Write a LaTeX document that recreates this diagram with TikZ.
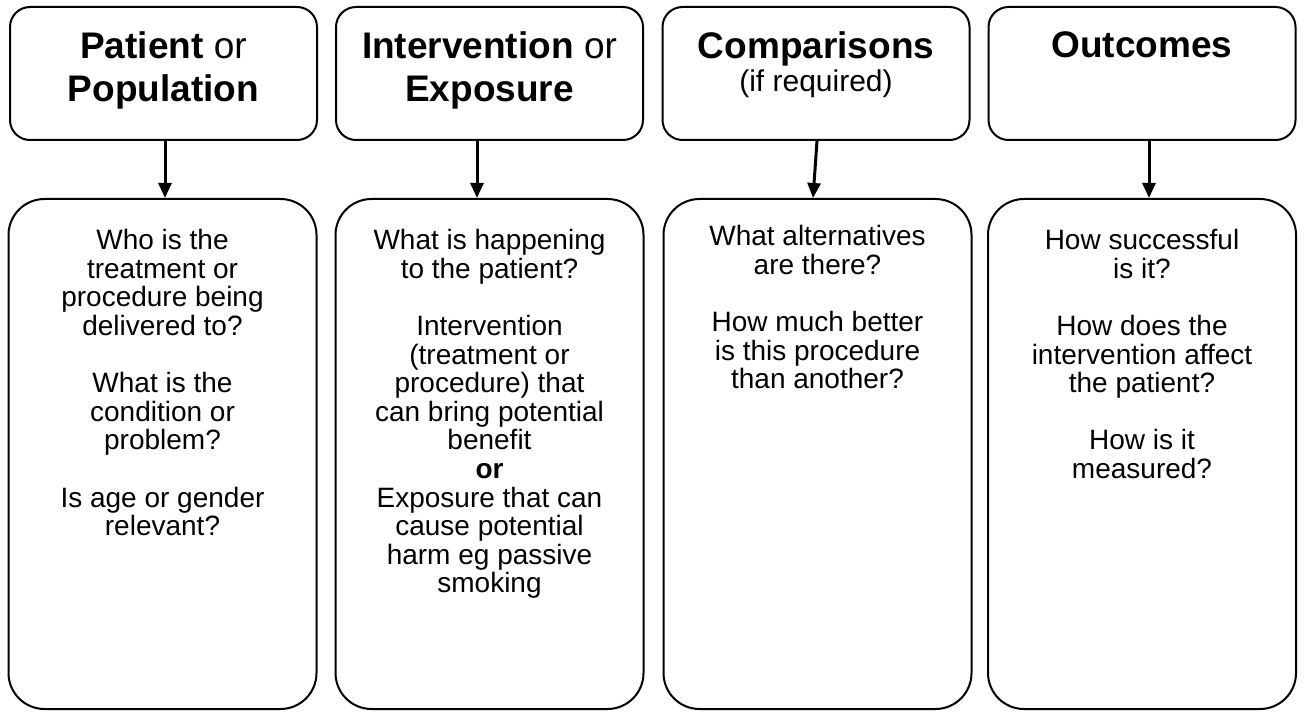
\documentclass[tikz,border=0pt]{standalone}
\usepackage{fontspec}
\setmainfont{Liberation Sans}
\usetikzlibrary{arrows.meta,positioning}
\begin{document}
\begin{tikzpicture}
[
 x=0.5pt, y=-0.5pt,
 HEADBOX/.style={rectangle, draw=black, line width=1pt, rounded corners=10pt, minimum width=153.5pt, minimum height=66.5pt, inner sep=0pt},
 BODYBOX/.style={rectangle, draw=black, line width=1pt, rounded corners=18pt, minimum width=154pt, minimum height=255pt, inner sep=0pt},
 HEADTXT/.style={anchor=north, align=center, inner sep=0pt, font=\fontsize{18.5}{21.5}\selectfont},
 BODYTXT/.style={anchor=north, align=center, inner sep=0pt, font=\fontsize{14}{14.3}\selectfont},
 ARROW/.style={line width=1.5pt, -{Triangle[width=6.5pt,length=7.5pt]}},
 ]
%
\useasboundingbox (0,0) rectangle (1304,711);
%
\node [HEADBOX]  (HP)   at ( 163.5, 73.5)  {};
\node [HEADBOX]  (HI)   at ( 489.5, 73.5)  {};
\node [HEADBOX]  (HC)   at ( 816.0, 73.5)  {};
\node [HEADBOX]  (HO)   at (1142.0, 73.5)  {};
%
\node [BODYBOX]  (BP)   at ( 162.5, 454)  {};
\node [BODYBOX]  (BI)   at ( 489.5, 454)  {};
\node [BODYBOX]  (BC)   at ( 817.5, 454)  {};
\node [BODYBOX]  (BO)   at (1142.0, 454)  {};
%
\node [HEADTXT]  (TP)   at ( 163.5, 31)  {\textbf{Patient} or\\\textbf{Population}};
\node [HEADTXT]  (TI)   at ( 489.5, 31)  {\textbf{Intervention} or\\\textbf{Exposure}};
\node [HEADTXT]  (TC)   at ( 816.0, 31)  {\textbf{Comparisons}\\[-5pt]{\fontsize{15}{16}\selectfont (if required)}};
\node [HEADTXT]  (TO)   at (1142.0, 31)  {\textbf{Outcomes}};
%
\node [BODYTXT]  (QP)   at ( 162.5, 229)  {Who is the\\treatment or\\procedure being\\delivered to?\\[14.3pt]
  What is the\\condition or\\problem?\\[14.3pt]Is age or gender\\relevant?};
\node [BODYTXT]  (QI)   at ( 489.5, 229)  {What is happening\\to the patient?\\[14.3pt]
  Intervention\\(treatment or\\procedure) that\\can bring potential\\benefit\\\textbf{or}\\
  Exposure that can\\cause potential\\harm eg passive\\smoking};
\node [BODYTXT]  (QC)   at ( 817.5, 225)  {What alternatives\\are there?\\[14.3pt]
  How much better\\is this procedure\\than another?};
\node [BODYTXT]  (QO)   at (1142.0, 229)  {How successful\\is it?\\[14.3pt]
  How does the\\intervention affect\\the patient?\\[14.3pt]How is it\\measured?};
%
\draw [ARROW]  ([xshift=0.75pt]HP.south) -- ([xshift=1.25pt]BP.north) ;
\draw [ARROW]  ([xshift=-6.25pt]HI.south) -- ([xshift=-6.25pt]BI.north) ;
\draw [ARROW]  ([xshift=0.5pt]HC.south) -- ([xshift=-2.25pt]BC.north) ;
\draw [ARROW]  ([xshift=3.5pt]HO.south) -- ([xshift=3.5pt]BO.north) ;
%
\end{tikzpicture}
\end{document}
